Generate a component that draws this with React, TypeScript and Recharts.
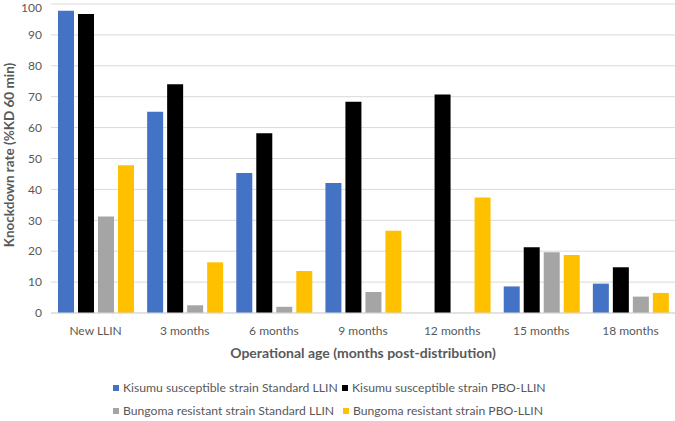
import React from 'react';
import { BarChart, Bar, XAxis, YAxis, CartesianGrid, Legend, Label } from 'recharts';

const categories = ['New LLIN', '3 months', '6 months', '9 months', '12 months', '15 months', '18 months'];
const kisumuStandard = [97.8, 65.1, 45.3, 42.1, 0, 8.6, 9.5];
const kisumuPbo = [96.8, 74.0, 58.2, 68.4, 70.7, 21.3, 14.8];
const bungomaStandard = [31.2, 2.5, 2.0, 6.8, 0, 19.7, 5.3];
const bungomaPbo = [47.8, 16.4, 13.6, 26.6, 37.4, 18.8, 6.5];
const yTicks = [0, 10, 20, 30, 40, 50, 60, 70, 80, 90, 100];

const seriesNames = [
  'Kisumu susceptible strain Standard LLIN',
  'Kisumu susceptible strain PBO-LLIN',
  'Bungoma resistant strain Standard LLIN',
  'Bungoma resistant strain PBO-LLIN',
];
const seriesColors = ['#4472C4', '#000000', '#A5A5A5', '#FFC000'];

const data = categories.map((name, i) => ({
  name,
  s0: kisumuStandard[i],
  s1: kisumuPbo[i],
  s2: bungomaStandard[i],
  s3: bungomaPbo[i],
}));

const FONT = 'Lato, "Open Sans", sans-serif';
const TEXT = '#595959';

function LegendBox() {
  const item = (idx: number, left: number, top: number) => (
    <div
      key={idx}
      style={{ position: 'absolute', left, top, display: 'flex', alignItems: 'center', whiteSpace: 'nowrap' }}
    >
      <span style={{ width: 6, height: 6, background: seriesColors[idx], display: 'inline-block', marginRight: 4 }} />
      <span style={{ fontFamily: FONT, fontSize: 12.2, color: TEXT, lineHeight: '14px' }}>{seriesNames[idx]}</span>
    </div>
  );
  return (
    <div style={{ position: 'relative', width: 675, height: 40 }}>
      {item(0, 113, 0)}
      {item(1, 342, 0)}
      {item(2, 113, 23)}
      {item(3, 343, 23)}
    </div>
  );
}

export default function App() {
  return (
    <div style={{ position: 'absolute', left: 0, top: 0, background: '#fff' }}>
      <BarChart
        width={675}
        height={421}
        data={data}
        margin={{ top: 4, right: 0, bottom: 78, left: 0 }}
        barSize={16}
        barGap={4}
      >
        <CartesianGrid vertical={false} stroke="#D9D9D9" strokeWidth={1} />
        <XAxis
          dataKey="name"
          height={30}
          axisLine={{ stroke: '#D9D9D9' }}
          tickLine={false}
          tickMargin={7}
          tick={{ fill: TEXT, fontSize: 12, fontFamily: FONT }}
          interval={0}
        >
          <Label
            content={() => (
              <text x={363} y={352} textAnchor="middle" dominantBaseline="central" fill={TEXT} fontFamily={FONT} fontSize={14} fontWeight="bold">
                Operational age (months post-distribution)
              </text>
            )}
          />
        </XAxis>
        <YAxis
          width={51}
          domain={[0, 100]}
          ticks={yTicks}
          axisLine={false}
          tickLine={false}
          tickMargin={3}
          tick={{ fill: TEXT, fontSize: 12, fontFamily: FONT }}
        >
          <Label
            content={() => (
              <text
                x={9}
                y={155}
                transform="rotate(-90, 9, 155)"
                textAnchor="middle"
                dominantBaseline="central"
                fill={TEXT}
                fontFamily={FONT}
                fontSize={13.5}
                fontWeight="bold"
              >
                Knockdown rate (%KD 60 min)
              </text>
            )}
          />
        </YAxis>
        <Legend
          layout="horizontal"
          align="center"
          verticalAlign="middle"
          content={() => <LegendBox />}
          wrapperStyle={{ left: 0, top: 381, width: 675 }}
        />
        {['s0', 's1', 's2', 's3'].map((key, i) => (
          <Bar key={key} dataKey={key} name={seriesNames[i]} fill={seriesColors[i]} isAnimationActive={false} />
        ))}
      </BarChart>
    </div>
  );
}
